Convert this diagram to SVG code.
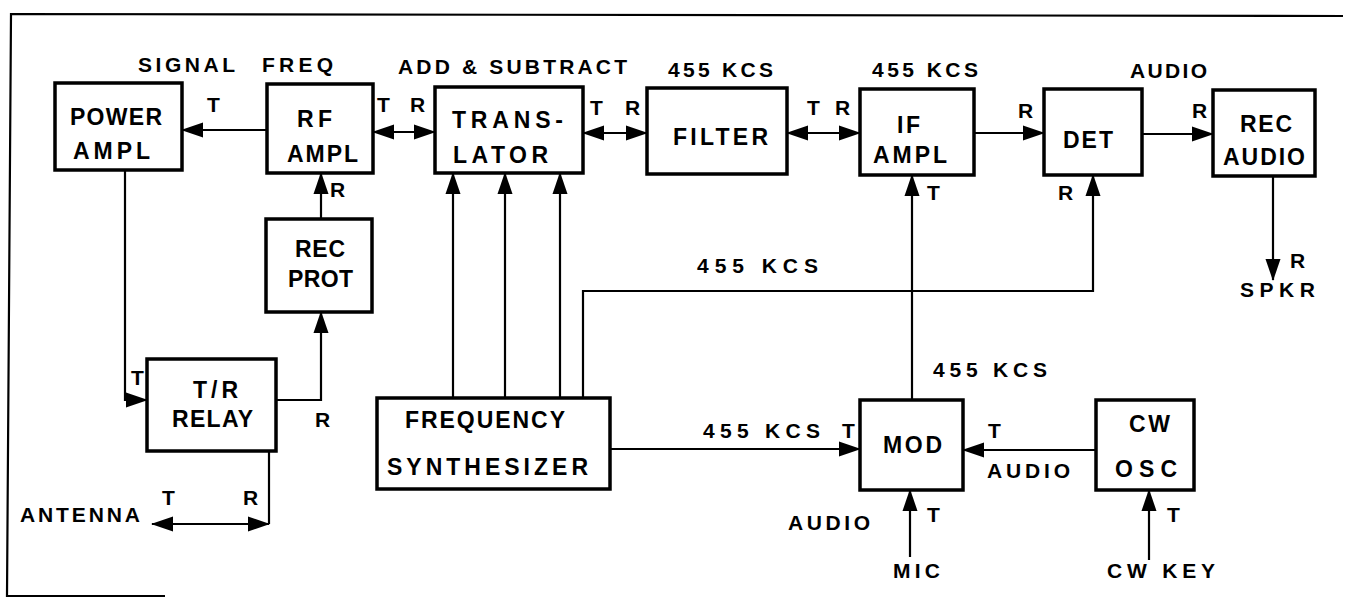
<svg xmlns="http://www.w3.org/2000/svg" width="1345" height="598" viewBox="0 0 1345 598">
<style>
.box{fill:#fff;stroke:#000;stroke-width:3.5}
.ln{fill:none;stroke:#000;stroke-width:2.2}
.ar{marker-end:url(#ah)}
.ar2{marker-end:url(#ah);marker-start:url(#ah)}
text{font-family:"Liberation Sans",Arial,sans-serif;font-weight:bold;fill:#000;font-size:21px}
.bt{font-size:23px}
</style>
<defs>
<marker id="ah" markerUnits="userSpaceOnUse" markerWidth="22" markerHeight="16" refX="21" refY="8" orient="auto-start-reverse" viewBox="0 0 22 16">
<path d="M0,0.5 L22,8 L0,15.5 Z" fill="#000"/>
</marker>
</defs>
<rect width="1345" height="598" fill="#fff"/>
<g id="frame">
<path class="ln" d="M1343 16 L11 14 L7 596 L165 596" stroke-width="2.5"/>
</g>
<g id="connectors">
<path class="ln ar" d="M267 130 H182"/>
<path class="ln ar2" d="M373 132 H435"/>
<path class="ln ar2" d="M583 133 H647"/>
<path class="ln ar2" d="M787 133 H860"/>
<path class="ln ar" d="M974 133 H1044"/>
<path class="ln ar" d="M1142 134 H1213"/>
<path class="ln ar" d="M1273 176 V280"/>
<path class="ln ar" d="M125 170 V400 H147"/>
<path class="ln ar" d="M276 400 H321 V312"/>
<path class="ln ar" d="M321 219 V173"/>
<path class="ln" d="M269 451 V524"/>
<path class="ln ar2" d="M152 524 H269"/>
<path class="ln ar" d="M453 398 V173"/>
<path class="ln ar" d="M505 398 V173"/>
<path class="ln ar" d="M560 398 V173"/>
<path class="ln ar" d="M583 398 V291 H1093 V175"/>
<path class="ln ar" d="M912 400 V175"/>
<path class="ln ar" d="M610 449 H860"/>
<path class="ln ar" d="M1096 450 H963"/>
<path class="ln ar" d="M910 557 V490"/>
<path class="ln ar" d="M1149 560 V490"/>
</g>
<g id="power-ampl"><rect class="box" x="55" y="83" width="127" height="87"/>
<text x="70" y="125" class="bt" textLength="92" lengthAdjust="spacing">POWER</text>
<text x="73" y="159" class="bt" textLength="77" lengthAdjust="spacing">AMPL</text></g>
<g id="rf-ampl"><rect class="box" x="267" y="84" width="106" height="89"/>
<text x="297" y="127" class="bt" textLength="35" lengthAdjust="spacing">RF</text>
<text x="287" y="162" class="bt" textLength="71" lengthAdjust="spacing">AMPL</text></g>
<g id="translator"><rect class="box" x="435" y="87" width="148" height="86"/>
<text x="452" y="128" class="bt" textLength="111" lengthAdjust="spacing">TRANS-</text>
<text x="453" y="163" class="bt" textLength="95" lengthAdjust="spacing">LATOR</text></g>
<g id="filter"><rect class="box" x="647" y="88" width="140" height="86"/>
<text x="673" y="145" class="bt" textLength="95" lengthAdjust="spacing">FILTER</text></g>
<g id="if-ampl"><rect class="box" x="860" y="89" width="114" height="86"/>
<text x="897" y="133" class="bt" textLength="23" lengthAdjust="spacing">IF</text>
<text x="873" y="163" class="bt" textLength="74" lengthAdjust="spacing">AMPL</text></g>
<g id="det"><rect class="box" x="1044" y="89" width="98" height="86"/>
<text x="1063" y="148" class="bt" textLength="50" lengthAdjust="spacing">DET</text></g>
<g id="rec-audio"><rect class="box" x="1213" y="90" width="102" height="86"/>
<text x="1240" y="132" class="bt" textLength="52" lengthAdjust="spacing">REC</text>
<text x="1223" y="165" class="bt" textLength="82" lengthAdjust="spacing">AUDIO</text></g>
<g id="rec-prot"><rect class="box" x="266" y="219" width="106" height="93"/>
<text x="295" y="257" class="bt" textLength="50" lengthAdjust="spacing">REC</text>
<text x="288" y="287" class="bt" textLength="65" lengthAdjust="spacing">PROT</text></g>
<g id="tr-relay"><rect class="box" x="147" y="359" width="129" height="92"/>
<text x="193" y="398" class="bt" textLength="45" lengthAdjust="spacing">T/R</text>
<text x="172" y="427" class="bt" textLength="81" lengthAdjust="spacing">RELAY</text></g>
<g id="freq-synth"><rect class="box" x="377" y="398" width="233" height="91"/>
<text x="405" y="428" class="bt" textLength="160" lengthAdjust="spacing">FREQUENCY</text>
<text x="387" y="475" class="bt" textLength="201" lengthAdjust="spacing">SYNTHESIZER</text></g>
<g id="mod"><rect class="box" x="860" y="400" width="103" height="90"/>
<text x="883" y="453" class="bt" textLength="59" lengthAdjust="spacing">MOD</text></g>
<g id="cw-osc"><rect class="box" x="1096" y="400" width="98" height="90"/>
<text x="1129" y="432" class="bt" textLength="41" lengthAdjust="spacing">CW</text>
<text x="1115" y="477" class="bt" textLength="62" lengthAdjust="spacing">OSC</text></g>
<g id="labels">
<text x="138" y="72" textLength="97" lengthAdjust="spacing">SIGNAL</text>
<text x="262" y="72" textLength="71" lengthAdjust="spacing">FREQ</text>
<text x="398" y="74" textLength="229" lengthAdjust="spacing">ADD &amp; SUBTRACT</text>
<text x="668" y="77" textLength="105" lengthAdjust="spacing">455 KCS</text>
<text x="872" y="77" textLength="106" lengthAdjust="spacing">455 KCS</text>
<text x="1130" y="78" textLength="77" lengthAdjust="spacing">AUDIO</text>
<text x="207" y="112">T</text>
<text x="377" y="112">T</text>
<text x="410" y="112">R</text>
<text x="590" y="115">T</text>
<text x="625" y="115">R</text>
<text x="807" y="115">T</text>
<text x="835" y="115">R</text>
<text x="1018" y="118">R</text>
<text x="1192" y="118">R</text>
<text x="330" y="197">R</text>
<text x="927" y="200">T</text>
<text x="1058" y="200">R</text>
<text x="697" y="273" textLength="121" lengthAdjust="spacing">455 KCS</text>
<text x="1290" y="268">R</text>
<text x="1240" y="297" textLength="75" lengthAdjust="spacing">SPKR</text>
<text x="131" y="385">T</text>
<text x="315" y="427">R</text>
<text x="20" y="522" textLength="120" lengthAdjust="spacing">ANTENNA</text>
<text x="162" y="505">T</text>
<text x="243" y="505">R</text>
<text x="933" y="377" textLength="114" lengthAdjust="spacing">455 KCS</text>
<text x="703" y="438" textLength="117" lengthAdjust="spacing">455 KCS</text>
<text x="842" y="438">T</text>
<text x="988" y="438">T</text>
<text x="987" y="478" textLength="83" lengthAdjust="spacing">AUDIO</text>
<text x="788" y="530" textLength="82" lengthAdjust="spacing">AUDIO</text>
<text x="927" y="522">T</text>
<text x="893" y="578" textLength="47" lengthAdjust="spacing">MIC</text>
<text x="1167" y="522">T</text>
<text x="1107" y="578" textLength="108" lengthAdjust="spacing">CW KEY</text>
</g>
</svg>
